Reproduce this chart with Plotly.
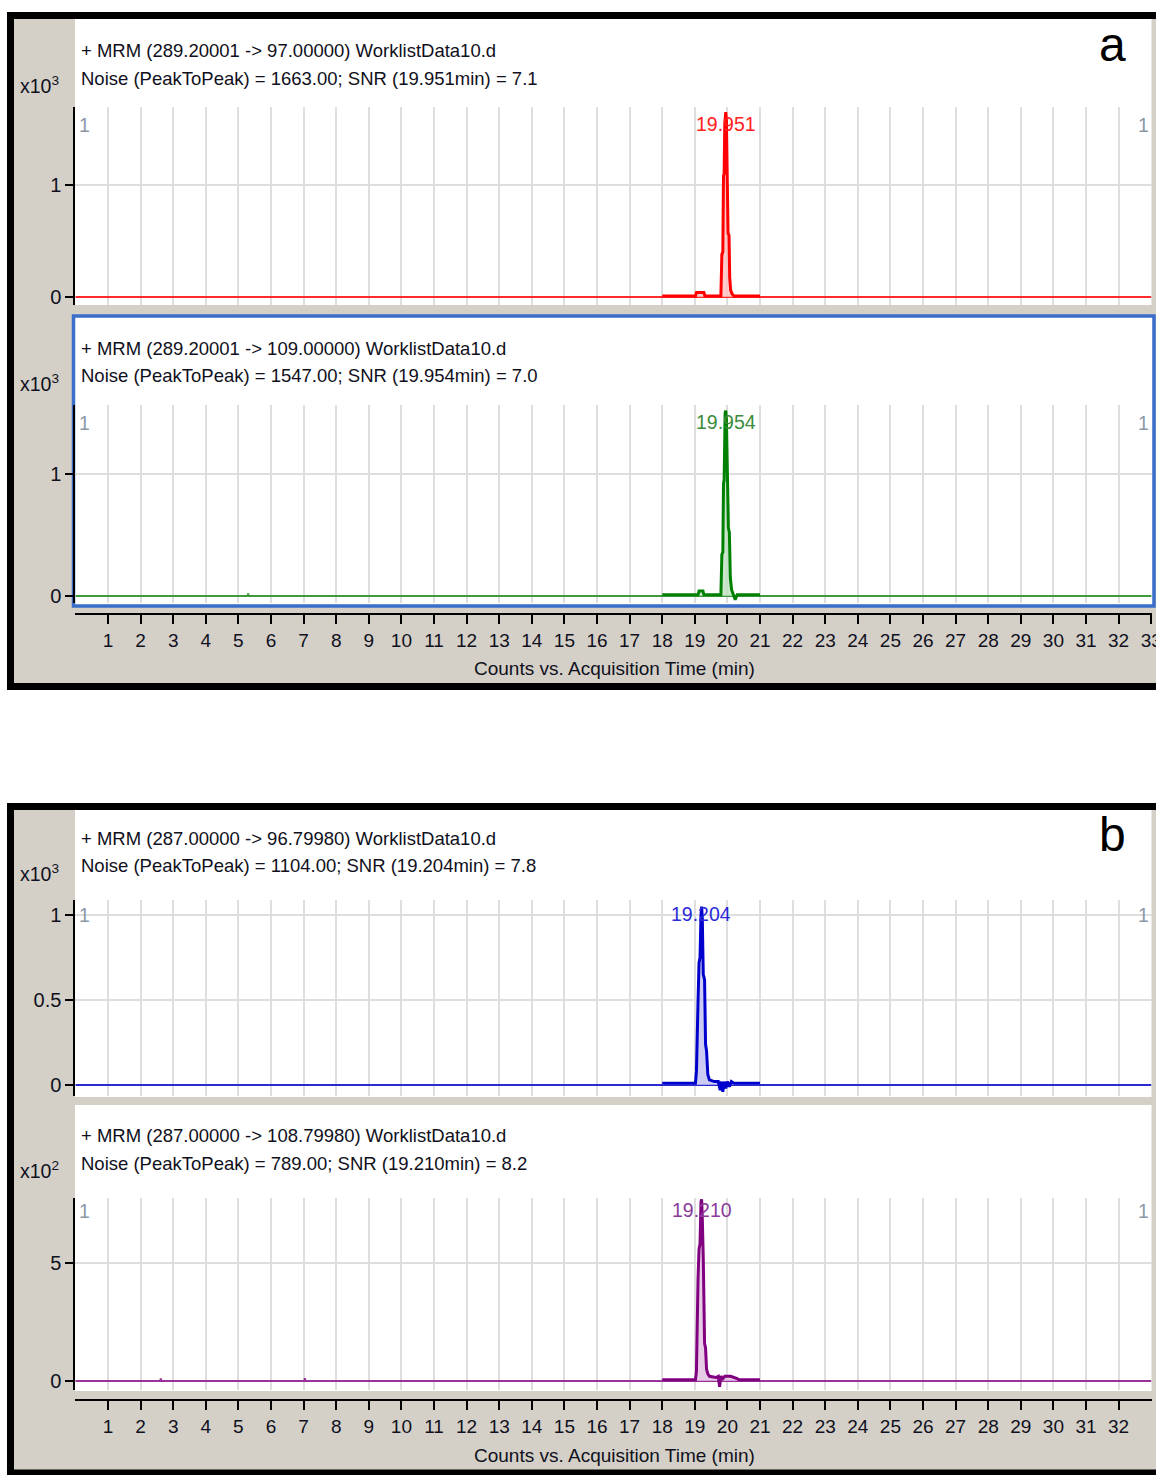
import plotly.graph_objects as go

# ---------------- data ----------------
x_ticks_a = list(range(1, 34))
x_ticks_b = list(range(1, 33))

# panel a, channel 1 (289.20001 -> 97.00000), counts x10^3
base_a1_t = [0.0, 33.0]
base_a1_y = [0.0, 0.0]
seg_a1_t = [18.0, 19.02, 19.05, 19.28, 19.31, 19.80, 19.83, 19.86, 19.88, 19.90, 19.92, 19.95,
            19.97, 19.99, 20.02, 20.05, 20.07, 20.10, 20.14, 20.20, 21.0]
seg_a1_y = [0.01, 0.01, 0.04, 0.04, 0.01, 0.01, 0.38, 0.40, 1.08, 1.10, 1.55, 1.65,
            1.58, 0.92, 0.57, 0.55, 0.18, 0.06, 0.03, 0.01, 0.01]

# panel a, channel 2 (289.20001 -> 109.00000), counts x10^3
base_a2_t = [0.0, 5.28, 5.30, 5.32, 33.0]
base_a2_y = [0.0, 0.0, 0.02, 0.0, 0.0]
seg_a2_t = [18.0, 19.10, 19.13, 19.25, 19.28, 19.80, 19.83, 19.86, 19.88, 19.90, 19.93, 19.95,
            19.97, 20.00, 20.03, 20.06, 20.09, 20.13, 20.17, 20.20, 20.24, 20.30, 21.0]
seg_a2_y = [0.01, 0.01, 0.04, 0.04, 0.01, 0.01, 0.34, 0.36, 0.92, 0.95, 1.50, 1.52,
            1.45, 0.85, 0.56, 0.52, 0.15, 0.05, 0.02, 0.0, -0.03, 0.01, 0.01]

# panel b, channel 1 (287.00000 -> 96.79980), counts x10^3
base_b1_t = [0.0, 33.0]
base_b1_y = [0.0, 0.0]
seg_b1_t = [18.0, 19.02, 19.05, 19.08, 19.10, 19.13, 19.16, 19.19, 19.21, 19.23, 19.26, 19.30,
            19.33, 19.36, 19.40, 19.45, 19.60, 19.72, 19.78, 19.82, 19.86, 19.90, 19.95, 20.00,
            20.06, 20.12, 20.20, 20.30, 21.0]
seg_b1_y = [0.01, 0.01, 0.08, 0.45, 0.50, 0.72, 0.75, 1.00, 1.05, 0.98, 0.65, 0.62,
            0.24, 0.20, 0.06, 0.03, 0.02, 0.02, -0.03, 0.02, -0.04, 0.02, -0.02, 0.02,
            -0.01, 0.02, 0.01, 0.01, 0.01]

# panel b, channel 2 (287.00000 -> 108.79980), counts x10^2
base_b2_t = [0.0, 2.60, 2.62, 2.64, 7.02, 7.04, 7.06, 33.0]
base_b2_y = [0.0, 0.0, 0.10, 0.0, 0.0, 0.12, 0.0, 0.0]
seg_b2_t = [18.0, 19.02, 19.05, 19.08, 19.10, 19.13, 19.16, 19.19, 19.21, 19.23, 19.26, 19.30,
            19.33, 19.36, 19.40, 19.45, 19.65, 19.72, 19.76, 19.80, 19.86, 19.92, 20.00, 20.10,
            20.30, 20.35, 21.0]
seg_b2_y = [0.05, 0.05, 0.40, 4.2, 4.4, 5.6, 5.8, 7.6, 7.7, 6.9, 5.2, 1.6,
            1.4, 0.5, 0.3, 0.2, 0.15, 0.2, -0.25, 0.2, 0.1, 0.2, 0.2, 0.2,
            0.1, 0.05, 0.05]

peak_times = [19.951, 19.954, 19.204, 19.210]
peak_labels = ["19.951", "19.954", "19.204", "19.210"]
title1 = ["+ MRM (289.20001 -> 97.00000) WorklistData10.d",
          "+ MRM (289.20001 -> 109.00000) WorklistData10.d",
          "+ MRM (287.00000 -> 96.79980) WorklistData10.d",
          "+ MRM (287.00000 -> 108.79980) WorklistData10.d"]
title2 = ["Noise (PeakToPeak) = 1663.00; SNR (19.951min) = 7.1",
          "Noise (PeakToPeak) = 1547.00; SNR (19.954min) = 7.0",
          "Noise (PeakToPeak) = 1104.00; SNR (19.204min) = 7.8",
          "Noise (PeakToPeak) = 789.00; SNR (19.210min) = 8.2"]
exponents = ["3", "3", "3", "2"]
y_tickvals = [[0, 1], [0, 1], [0, 0.5, 1], [0, 5]]
y_ticktext = [["0", "1"], ["0", "1"], ["0", "0.5", "1"], ["0", "5"]]
x_title = "Counts vs. Acquisition Time (min)"

# ---------------- style / geometry ----------------
W, H = 1156, 1475
def X(p): return p / W
def Y(p): return 1 - p / H

FONT = "Liberation Sans, Arial, sans-serif"
FS = 18.5
GRAY = "#d4d0c8"
GRID = "#dedede"
X0PX, X1PX = 75.4, 1151.2
XR = [0, 33.02]
X1PX_R = X0PX + (X1PX - X0PX) * 33.02 / 33.0

line_cols = ["#ff0000", "#008000", "#0000cc", "#800080"]
base_cols = ["#ff2a2a", "#3c9a3c", "#2a2ad0", "#9a329a"]
fill_cols = ["rgba(255,190,190,0.8)", "rgba(190,225,190,0.8)", "rgba(190,190,240,0.8)", "rgba(225,190,225,0.8)"]
label_cols = ["#ff2020", "#3a8c3a", "#2a2ad8", "#8a3a9a"]
TXT = "#101020"

# y-domain geometry in pixels: (top, bottom, zero_px, px_per_unit)
ygeo = [(107, 305, 297, 112.0), (405, 603, 596, 122.0), (900, 1096, 1085, 170.0), (1198, 1390, 1381, 23.6)]
title_y = [(50, 78), (348, 376), (838, 866), (1135, 1163)]
x10_y = [85, 383, 873, 1170]
mark_y = [125, 423, 915, 1211]

fig = go.Figure()
bases = [(base_a1_t, base_a1_y), (base_a2_t, base_a2_y), (base_b1_t, base_b1_y), (base_b2_t, base_b2_y)]
segs = [(seg_a1_t, seg_a1_y), (seg_a2_t, seg_a2_y), (seg_b1_t, seg_b1_y), (seg_b2_t, seg_b2_y)]
for i in range(4):
    xa = "x" if i == 0 else f"x{i+1}"
    ya = "y" if i == 0 else f"y{i+1}"
    fig.add_trace(go.Scatter(x=bases[i][0], y=bases[i][1], mode="lines", xaxis=xa, yaxis=ya,
                             line=dict(color=base_cols[i], width=2), showlegend=False, hoverinfo="skip"))
    fig.add_trace(go.Scatter(x=segs[i][0], y=segs[i][1], mode="lines", xaxis=xa, yaxis=ya,
                             fill="tozeroy", fillcolor=fill_cols[i],
                             line=dict(color=line_cols[i], width=3), showlegend=False, hoverinfo="skip"))

layout = dict(
    width=W, height=H, margin=dict(l=0, r=0, t=0, b=0, autoexpand=False),
    paper_bgcolor="white", plot_bgcolor="rgba(0,0,0,0)", showlegend=False,
    font=dict(family=FONT, size=FS, color="black"),
)

for i in range(4):
    top, bot, z, s = ygeo[i]
    xk = "xaxis" if i == 0 else f"xaxis{i+1}"
    yk = "yaxis" if i == 0 else f"yaxis{i+1}"
    ya = "y" if i == 0 else f"y{i+1}"
    xa = "x" if i == 0 else f"x{i+1}"
    xa_cfg = dict(domain=[X(X0PX), X(X1PX_R)], range=XR, showgrid=True, gridcolor=GRID, gridwidth=2,
                  tick0=0, dtick=1, zeroline=False, fixedrange=True, automargin=False)
    if i in (1, 3):
        pos = 614 if i == 1 else 1400
        tv = x_ticks_a if i == 1 else x_ticks_b
        xa_cfg.update(anchor="free", position=Y(pos), showline=True, linecolor="black", linewidth=2,
                      ticks="outside", ticklen=9, tickwidth=2, tickcolor="black",
                      tickvals=tv, ticktext=[str(v) for v in tv], showticklabels=True,
                      ticklabeloverflow="allow",
                      tickfont=dict(family=FONT, size=FS + 0.5, color=TXT))
    else:
        xa_cfg.update(anchor=ya, showticklabels=False, ticks="", showline=False)
    layout[xk] = xa_cfg
    layout[yk] = dict(domain=[Y(bot), Y(top)], range=[(z - bot) / s, (z - top) / s], anchor=xa,
                      tickvals=y_tickvals[i], ticktext=y_ticktext[i], ticks="outside", ticklen=8,
                      tickwidth=2, tickcolor="black", showline=True, linecolor="black", linewidth=2,
                      showgrid=True, gridcolor=GRID, gridwidth=2, zeroline=False, fixedrange=True,
                      automargin=False,
                      tickfont=dict(family=FONT, size=FS + 1.5, color=TXT))

shapes = [
    dict(type="rect", xref="paper", yref="paper", x0=X(10.5), x1=X(1170), y0=Y(686.5), y1=Y(15.5),
         line=dict(color="black", width=7), fillcolor=GRAY, layer="below"),
    dict(type="rect", xref="paper", yref="paper", x0=X(75), x1=X(1151.5), y0=Y(305), y1=Y(19),
         line=dict(width=0), fillcolor="white", layer="below"),
    dict(type="rect", xref="paper", yref="paper", x0=X(73.5), x1=X(1154), y0=Y(606), y1=Y(316),
         line=dict(color="#3a6ec8", width=3.5), fillcolor="white", layer="below"),
    dict(type="rect", xref="paper", yref="paper", x0=X(10.5), x1=X(1170), y0=Y(1473), y1=Y(806.5),
         line=dict(color="black", width=7), fillcolor=GRAY, layer="below"),
    dict(type="rect", xref="paper", yref="paper", x0=X(75), x1=X(1151.5), y0=Y(1097), y1=Y(810),
         line=dict(width=0), fillcolor="white", layer="below"),
    dict(type="rect", xref="paper", yref="paper", x0=X(75), x1=X(1151.5), y0=Y(1391), y1=Y(1105),
         line=dict(width=0), fillcolor="white", layer="below"),
]
layout["shapes"] = shapes

ann = []
for i in range(4):
    xa = "x" if i == 0 else f"x{i+1}"
    ann.append(dict(xref="paper", yref="paper", x=X(79), y=Y(title_y[i][0]), text=title1[i],
                    showarrow=False, xanchor="left", yanchor="middle",
                    font=dict(family=FONT, size=FS, color=TXT)))
    ann.append(dict(xref="paper", yref="paper", x=X(79), y=Y(title_y[i][1]), text=title2[i],
                    showarrow=False, xanchor="left", yanchor="middle",
                    font=dict(family=FONT, size=FS, color=TXT)))
    ann.append(dict(xref="paper", yref="paper", x=X(39), y=Y(x10_y[i]), text="x10<sup>" + exponents[i] + "</sup>",
                    showarrow=False, xanchor="center", yanchor="middle",
                    font=dict(family=FONT, size=FS + 1, color=TXT)))
    for mx in (84, 1143):
        ann.append(dict(xref="paper", yref="paper", x=X(mx), y=Y(mark_y[i]), text="1",
                        showarrow=False, xanchor="center", yanchor="middle",
                        font=dict(family=FONT, size=FS + 1, color="#8a98a8")))
    ann.append(dict(xref=xa, yref="paper", x=peak_times[i], y=Y(mark_y[i] - 1), text=peak_labels[i],
                    showarrow=False, xanchor="center", yanchor="middle",
                    font=dict(family=FONT, size=FS + 1, color=label_cols[i])))
for xt_y in (668, 1455):
    ann.append(dict(xref="paper", yref="paper", x=X(614), y=Y(xt_y), text=x_title, showarrow=False,
                    xanchor="center", yanchor="middle", font=dict(family=FONT, size=FS + 0.5, color=TXT)))
for lab, ly in (("a", 45), ("b", 835)):
    ann.append(dict(xref="paper", yref="paper", x=X(1112), y=Y(ly), text=lab, showarrow=False,
                    xanchor="center", yanchor="middle",
                    font=dict(family=FONT, size=48, color="black")))
layout["annotations"] = ann

fig.update_layout(**layout)
fig.write_html("out.html", config={"displayModeBar": False},
               post_script="document.body.style.margin='0';document.body.style.overflow='hidden';")
